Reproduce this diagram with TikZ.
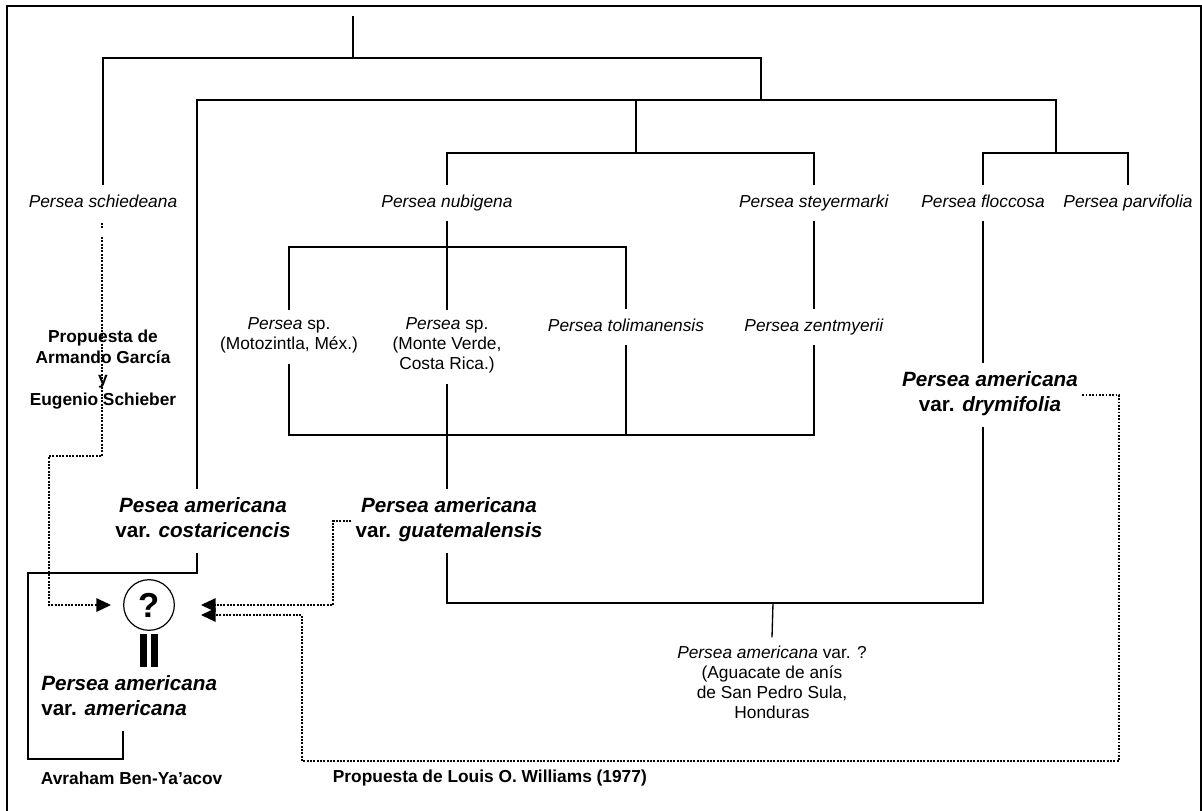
\documentclass[tikz,border=0pt]{standalone}
\usepackage{fontspec}
\setmainfont{Liberation Sans}
\usetikzlibrary{arrows.meta}

\tikzset{
    taxon/.style={align=center, inner xsep=2pt, inner ysep=6pt, font=\fontsize{13}{15}\selectfont,
        execute at begin node=\strut, execute at end node=\strut},
    variety/.style={align=center, inner xsep=3pt, inner ysep=6pt, font=\fontsize{15.5}{18.5}\selectfont\bfseries,
        execute at begin node=\strut, execute at end node=\strut},
    author/.style={align=center, inner sep=2pt, font=\fontsize{13}{15.75}\selectfont\bfseries},
    branch/.style={line width=1pt},
    dotline/.style={line width=1.4pt, dash pattern=on 1.4pt off 1.1pt},
    proposal/.style={dotline, -{Triangle[length=11pt,width=10pt]}},
}

\begin{document}
\begin{tikzpicture}[x=0.75pt,y=-0.75pt]
    \useasboundingbox (0,0) rectangle (1202,810);
    \draw[line width=1.1pt] (7,815) -- (7,6) -- (1201,6) -- (1201,815);

    \node[taxon] (schied) at (103,203) {\textit{Persea schiedeana}};
    \node[taxon] (nubig) at (447,203) {\textit{Persea nubigena}};
    \node[taxon] (steyer) at (814,203) {\textit{Persea steyermarki}};
    \node[taxon] (flocc) at (983,203) {\textit{Persea floccosa}};
    \node[taxon] (parvi) at (1128,203) {\textit{Persea parvifolia}};
    \node[taxon] (moto) at (289,337) {\textit{Persea} sp.\\(Motozintla, Méx.)};
    \node[taxon] (montev) at (447,347) {\textit{Persea} sp.\\(Monte Verde,\\Costa Rica.)};
    \node[taxon] (tolim) at (626,327) {\textit{Persea tolimanensis}};
    \node[taxon] (zent) at (814,327) {\textit{Persea zentmyerii}};
    \node[variety] (dry) at (990,395) {\textit{Persea americana}\\var. \textit{drymifolia}};
    \node[variety] (costa) at (203,521) {\textit{Pesea americana}\\var. \textit{costaricencis}};
    \node[variety] (guate) at (449,521) {\textit{Persea americana}\\var. \textit{guatemalensis}};
    \node[variety, anchor=west, align=left] (amer) at (37,699) {\textit{Persea americana}\\var. \textit{americana}};
    \node[taxon] (sanp) at (772,685) {\textit{Persea americana} var. ?\\(Aguacate de anís\\de San Pedro Sula,\\Honduras};
    \node[circle, draw, line width=0.9pt, minimum size=38pt, inner sep=0pt, font=\fontsize{26}{26}\selectfont\bfseries] (q) at (149,605) {?};
    \node[author] (garcia) at (103,370) {Propuesta de\\Armando García\\y\\Eugenio Schieber};
    \node[author, anchor=west] (avraham) at (38,778) {Avraham Ben-Ya’acov};
    \node[author, anchor=west] (williams) at (330,778) {Propuesta de Louis O. Williams (1977)};

    \coordinate (top) at (353,16);
    \coordinate (n1) at (353,58);
    \coordinate (n2) at (761,100);
    \coordinate (k2) at (197,100);
    \coordinate (n3) at (636,153);
    \coordinate (n4) at (1056,153);
    \coordinate (n5) at (447,247);
    \coordinate (n6) at (447,435);
    \coordinate (n7) at (773,603);
    \coordinate (b1) at (28,573);
    \coordinate (b2) at (123,759);

    \draw[branch] (top) -- (n1);
    \draw[branch] (schied.north) |- (n1) -| (n2);
    \draw[branch] (costa.north -| k2) -- (k2) -- (k2 -| n4) -- (n4);
    \draw[branch] (n3) -- (n3 |- k2);
    \draw[branch] (nubig.north) |- (n3) -| (steyer.north);
    \draw[branch] (flocc.north) |- (n4) -| (parvi.north);
    \draw[branch] (nubig.south) -- (montev.north);
    \draw[branch] (moto.north) |- (n5) -| (tolim.north);
    \draw[branch] (steyer.south) -- (zent.north);
    \draw[branch] (moto.south) |- (n6) -| (zent.south);
    \draw[branch] (tolim.south) -- (tolim.south |- n6);
    \draw[branch] (montev.south) -- (montev.south |- guate.north);
    \draw[branch] (flocc.south) -- (flocc.south |- dry.north);
    \draw[branch] (guate.south -| n6) |- (flocc.south |- n7) -- (flocc.south |- dry.south);
    \draw[branch] (n7) -- (sanp.north);
    \draw[branch] (costa.south -| k2) |- (b1) |- (b2) -- (b2 |- amer.south);

    \fill (140,634) rectangle (147,667);
    \fill (151,634) rectangle (158,667);

    \coordinate (d0) at (102,237);
    \coordinate (d1) at (49,456);
    \coordinate (d2) at (333,605);
    \coordinate (d3) at (1119,761);
    \coordinate (d4) at (302,761);
    \draw[dotline] (102,223) -- (102,228);
    \draw[proposal, shorten >=9pt] (d0) |- (d1) |- (q.west);
    \draw[proposal, shorten >=19.5pt] (guate.west) -| (d2) -- (q.east);
    \draw[proposal, shorten >=19.5pt] (dry.east) -| (d3) -- (d4) |- ([yshift=-7.5pt]q.east);
\end{tikzpicture}
\end{document}
